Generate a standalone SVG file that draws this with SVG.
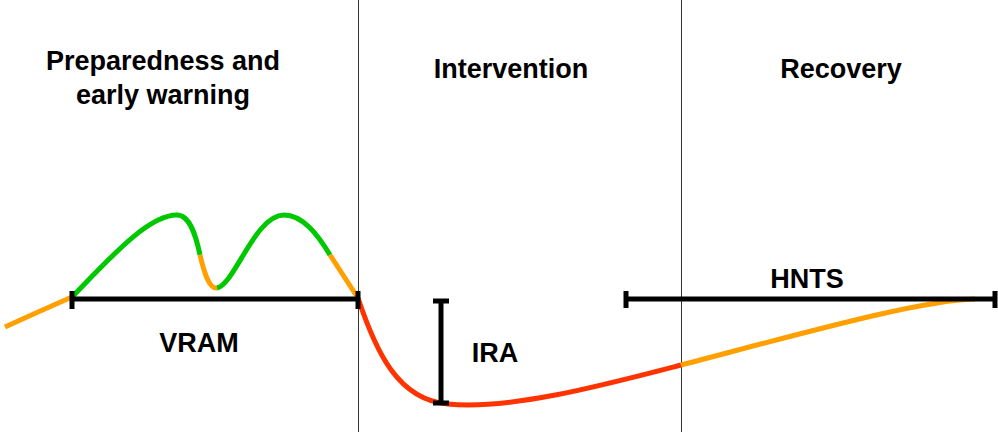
<svg xmlns="http://www.w3.org/2000/svg" width="998" height="432" viewBox="0 0 998 432">
<style>
.lbl{font-family:"Liberation Sans",Arial,sans-serif;font-size:27px;font-weight:bold;fill:#000;text-anchor:middle}
.div{stroke:#333;stroke-width:1;fill:none}
.c{fill:none;stroke-width:5;stroke-linecap:butt}
.g{stroke:#00c800}
.o{stroke:#ffa000}
.r{stroke:#ff3300}
.bar{stroke:#000;stroke-width:5;fill:none}
.tick{stroke:#000;stroke-width:5;fill:none}
</style>
<rect width="998" height="432" fill="#fff"/>
<g id="dividers">
<line class="div" x1="358.5" y1="0" x2="358.5" y2="432"/>
<line class="div" x1="681.5" y1="0" x2="681.5" y2="432"/>
</g>
<g id="headers">
<text class="lbl" x="163" y="70">Preparedness and</text>
<text class="lbl" x="163" y="104">early warning</text>
<text class="lbl" x="511" y="78">Intervention</text>
<text class="lbl" x="841" y="78">Recovery</text>
</g>
<g id="curve">
<path class="c o" d="M5,327 Q40,311 72,297"/>
<path class="c g" d="M72,297 C110,258 148,215 177,215 C190,215 196,236 200,255"/>
<path class="c o" d="M200,255 C204,272 209,289 217,288"/>
<path class="c g" d="M217,288 C235,284 255,215 284,215 C303,215 318,235 330,255"/>
<path class="c o" d="M330,255 L358,298"/>
<path class="c r" d="M358,298 C376,352 398,400 448,404 C510,410 600,386 681,365"/>
<path class="c o" d="M681,365 C800,334 920,300 975,299"/>
</g>
<g id="VRAM">
<line class="bar" x1="72" y1="299" x2="358" y2="299"/>
<line class="tick" x1="72" y1="291" x2="72" y2="309"/>
<line class="tick" x1="358" y1="291" x2="358" y2="309"/>
<text class="lbl" x="199" y="352">VRAM</text>
</g>
<g id="IRA">
<line class="bar" x1="441" y1="301" x2="441" y2="403"/>
<line class="tick" x1="433" y1="301" x2="449" y2="301"/>
<line class="tick" x1="433" y1="403" x2="449" y2="403"/>
<text class="lbl" x="495" y="362">IRA</text>
</g>
<g id="HNTS">
<line class="bar" x1="626" y1="299" x2="995" y2="299"/>
<line class="tick" x1="626" y1="291" x2="626" y2="308"/>
<line class="tick" x1="995" y1="291" x2="995" y2="308"/>
<text class="lbl" x="807" y="288">HNTS</text>
</g>
</svg>
